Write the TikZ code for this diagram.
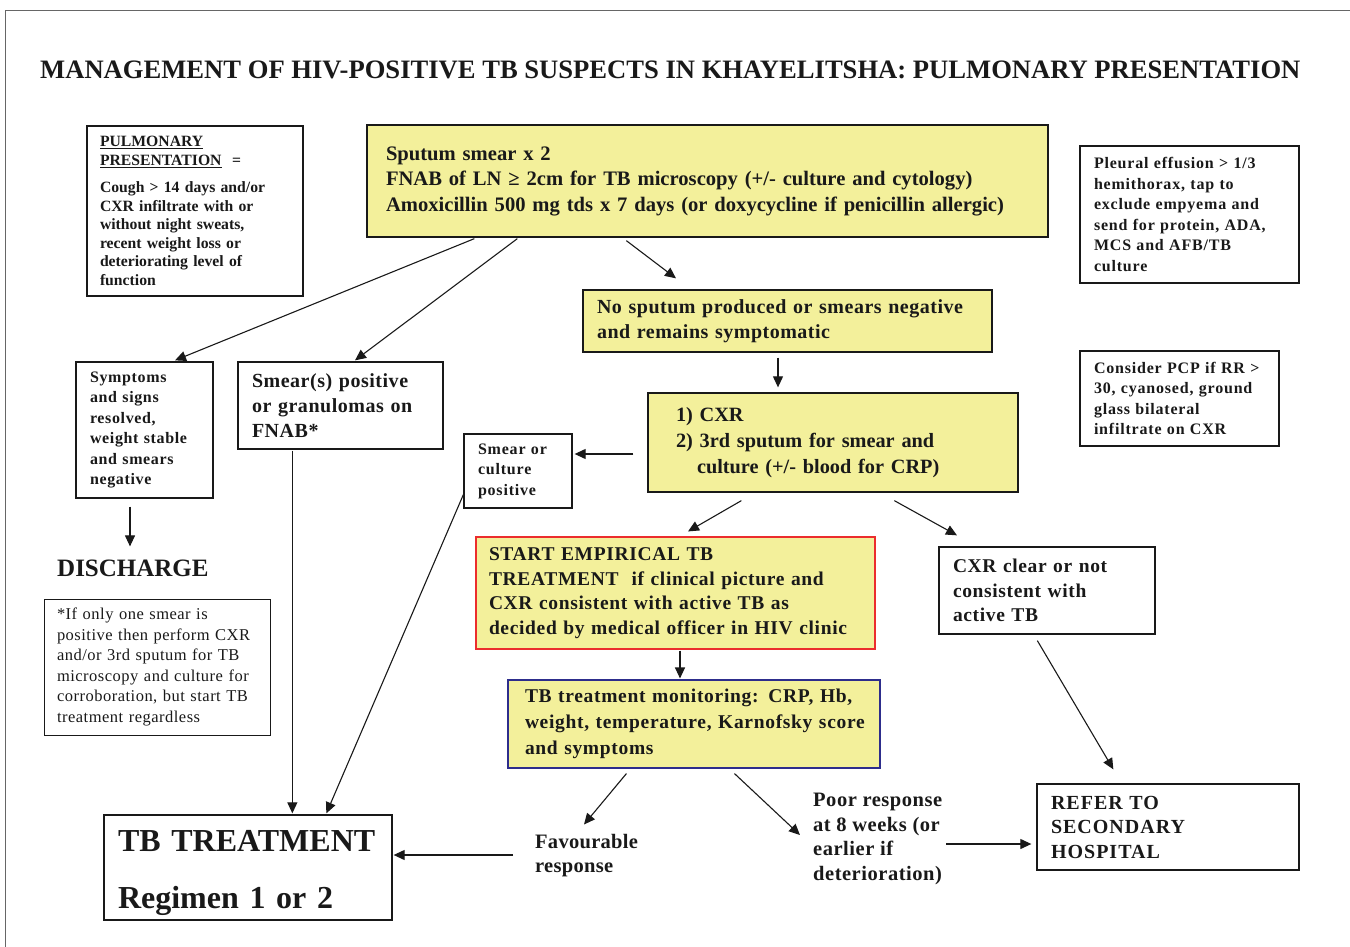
\documentclass[tikz,border=0pt]{standalone}
\usepackage{fontspec}
\setmainfont{Liberation Serif}
\usetikzlibrary{arrows.meta,calc}
\definecolor{boxyellow}{RGB}{243,240,155}
\definecolor{boxred}{RGB}{235,45,45}
\definecolor{boxblue}{RGB}{45,45,140}
\definecolor{ink}{RGB}{25,25,25}
\newcommand{\fs}[2]{\fontsize{#1}{#2}\selectfont}
\newcommand{\ls}[1]{\addfontfeature{LetterSpace=#1}}
\tikzset{
  box/.style={draw=ink, line width=1.3pt, align=left, inner ysep=0pt, text=ink, anchor=center},
  ybox/.style={box, fill=boxyellow},
  lbl/.style={align=left, inner sep=0pt, text=ink},
  arr/.style={draw=ink, line width=1.1pt, -{Triangle[length=11pt,width=10pt]}},
}
\begin{document}
\begin{tikzpicture}[x=1pt,y=-1pt]
\useasboundingbox (0,0) rectangle (1350,947);
\draw[line width=1pt, black!60] (5,947) -- (5,11) -- (1350,11);

\node[lbl, anchor=west, font=\fs{26.6}{30}\bfseries] (title) at (40,70)
  {MANAGEMENT OF HIV-POSITIVE TB SUSPECTS IN KHAYELITSHA: PULMONARY PRESENTATION};

\node[box, inner xsep=13pt, text width=190pt, minimum height=170pt, font=\fs{15.7}{18.5}\bfseries] (pulm) at (195,211)
  {\underline{PULMONARY}\\\underline{PRESENTATION}\ \ =\\[9pt]
   Cough > 14 days and/or\\CXR infiltrate with or\\without night sweats,\\recent weight loss or\\deteriorating level of\\function};

\node[ybox, inner xsep=19pt, text width=643pt, minimum height=112pt, font=\fs{20.6}{25.5}\bfseries] (sput) at (707.5,181)
  {Sputum smear x 2\\FNAB of LN ≥ 2cm for TB microscopy (+/- culture and cytology)\\Amoxicillin 500 mg tds x 7 days (or doxycycline if penicillin allergic)};

\node[box, inner xsep=14pt, text width=191pt, minimum height=137pt, font=\fs{16}{20.5}\bfseries\ls{5}] (pleu) at (1189.5,214.5)
  {Pleural effusion > 1/3\\hemithorax, tap to\\exclude empyema and\\send for protein, ADA,\\MCS and AFB/TB\\culture};

\node[box, inner xsep=14pt, text width=171pt, minimum height=95pt, font=\fs{16}{20.5}\bfseries\ls{5}] (pcp) at (1179.5,398.5)
  {Consider PCP if RR >\\30, cyanosed, ground\\glass bilateral\\infiltrate on CXR};

\node[ybox, inner xsep=14pt, text width=381pt, minimum height=62pt, font=\fs{20}{25}\bfseries\ls{2.5}] (nos) at (787.5,321)
  {No sputum produced or smears negative\\and remains symptomatic};

\node[box, inner xsep=14pt, text width=109pt, minimum height=136pt, font=\fs{16}{20.5}\bfseries\ls{4}] (symp) at (144.5,430)
  {Symptoms\\and signs\\resolved,\\weight stable\\and smears\\negative};

\node[box, inner xsep=14pt, text width=177pt, minimum height=87pt, font=\fs{20}{25}\bfseries\ls{2.6}] (smr) at (340.5,405.5)
  {Smear(s) positive\\or granulomas on\\FNAB*};

\node[box, inner xsep=14pt, text width=80pt, minimum height=74pt, font=\fs{16}{20.5}\bfseries\ls{5}] (sc) at (518,471)
  {Smear or\\culture\\positive};

\node[ybox, inner xsep=28pt, text width=314pt, minimum height=99pt, font=\fs{20.3}{26}\bfseries] (cxr) at (833,442.5)
  {1) CXR\\2) 3rd sputum for smear and\\\hspace*{21pt}culture (+/- blood for CRP)};

\node[lbl, anchor=west, font=\fs{25}{28}\bfseries] (dis) at (57,568) {DISCHARGE};

\node[box, line width=1pt, inner xsep=13pt, text width=200pt, minimum height=136pt, font=\fs{16.5}{20.5}\ls{3}] (foot) at (157,667)
  {*If only one smear is\\positive then perform CXR\\and/or 3rd sputum for TB\\microscopy and culture for\\corroboration, but start TB\\treatment regardless};

\node[ybox, draw=boxred, line width=1.1pt, inner xsep=13pt, text width=373pt, minimum height=112pt, font=\fs{19.5}{24.5}\bfseries\ls{3.4}] (start) at (675.5,593)
  {START EMPIRICAL TB\\TREATMENT\ \ if clinical picture and\\CXR consistent with active TB as\\decided by medical officer in HIV clinic};

\node[box, inner xsep=14pt, text width=188pt, minimum height=87pt, font=\fs{19.5}{24.5}\bfseries\ls{3.3}] (clear) at (1047,590.5)
  {CXR clear or not\\consistent with\\active TB};

\node[ybox, draw=boxblue, line width=1.1pt, inner xsep=17pt, text width=338pt, minimum height=88pt, font=\fs{19.5}{26}\bfseries\ls{3.5}] (mon) at (694,724)
  {TB treatment monitoring: CRP, Hb,\\weight, temperature, Karnofsky score\\and symptoms};

\node[lbl, anchor=west, font=\fs{20.5}{24}\bfseries\ls{1.4}] (fav) at (535,856) {Favourable\\response};

\node[lbl, anchor=west, font=\fs{20.5}{24.7}\bfseries\ls{2.6}] (poor) at (813,839) {Poor response\\at 8 weeks (or\\earlier if\\deterioration)};

\node[box, inner xsep=14pt, text width=234pt, minimum height=86pt, font=\fs{20}{24.5}\bfseries\ls{5}] (ref) at (1168,827)
  {REFER TO\\SECONDARY\\HOSPITAL};

\node[box, inner xsep=14pt, text width=260pt, minimum height=105pt, font=\fs{32}{57}\bfseries] (tbt) at (248,867.5)
  {\rule{0pt}{33pt}TB TREATMENT\\Regimen 1 or 2};

% connectors
\draw[arr] ($(sput.south west)+(108,1)$) -- ($(symp.north)+(30.5,-1)$);
\draw[arr] ($(sput.south west)+(151,1)$) -- ($(smr.north)+(14.5,-1)$);
\draw[arr] ($(sput.south west)+(260,3)$) -- ($(nos.north)+(-111.5,-11)$);
\draw[arr] ($(nos.south)+(-9.5,5)$) -- ($(cxr.north)+(-55,-5)$);
\draw[arr] ($(cxr.west)+(-14,11.5)$) -- ($(sc.east)+(2,-17)$);
\draw[arr] ($(cxr.south west)+(94,8)$) -- ($(start.north)+(12.5,-5)$);
\draw[arr] ($(cxr.south west)+(247,8)$) -- ($(clear.north)+(-90,-11)$);
\draw[arr] ($(symp.south)+(-14.5,8)$) -- ($(dis.north west)+(73,-13)$);
\draw[arr] ($(smr.south west)+(55,1)$) -- ($(tbt.north west)+(189,-1)$);
\draw[arr] ($(sc.south west)+(0,-14)$) -- ($(tbt.north west)+(223,-1)$);
\draw[arr] ($(start.south)+(4.5,1)$) -- ($(mon.north)+(-14,-1)$);
\draw[arr] ($(mon.south west)+(119,5)$) -- ($(fav.north west)+(49,-10)$);
\draw[arr] ($(mon.south west)+(227,5)$) -- ($(poor.west)+(-13,-4)$);
\draw[arr] ($(fav.west)+(-22,-1)$) -- ($(tbt.east)+(1,-12.5)$);
\draw[arr] ($(poor.west)+(133,5)$) -- ($(ref.west)+(-5,17)$);
\draw[arr] ($(clear.south west)+(99,6)$) -- ($(ref.north west)+(77,-14)$);
\end{tikzpicture}
\end{document}
